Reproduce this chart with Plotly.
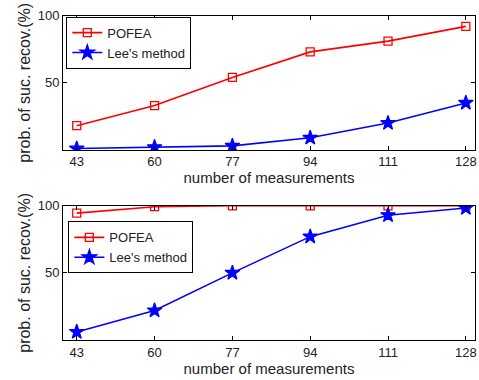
import plotly.graph_objects as go

measurements = [43, 60, 77, 94, 111, 128]
pofea_top = [18, 33, 54, 73, 81, 92]
lee_top = [1, 2, 3, 9, 20, 35]
pofea_bottom = [94.5, 99.3, 100, 100, 100, 100]
lee_bottom = [6, 22, 50, 77, 93, 98.3]
x_ticks = [43, 60, 77, 94, 111, 128]
y_ticks = [50, 100]

FONT = "Liberation Sans, Arial, sans-serif"
fig = go.Figure()

def add(x, y, name, color, symbol, msize, xa, ya, legend, show):
    fig.add_trace(go.Scatter(
        x=x, y=y, name=name, mode="lines+markers",
        line=dict(color=color, width=1.6),
        marker=dict(symbol=symbol, size=msize, color=color,
                    line=dict(color=color, width=1.3)),
        xaxis=xa, yaxis=ya, legend=legend, showlegend=show))

add(measurements, pofea_top, "POFEA", "#ff0000", "square-open", 8, "x", "y", "legend", True)
add(measurements, lee_top, "Lee's method", "#0000ff", "star", 11, "x", "y", "legend", True)
add(measurements, pofea_bottom, "POFEA", "#ff0000", "square-open", 8, "x2", "y2", "legend2", True)
add(measurements, lee_bottom, "Lee's method", "#0000ff", "star", 11, "x2", "y2", "legend2", True)

axis_common = dict(showline=True, linecolor="black", linewidth=1, mirror="ticks",
                   ticks="inside", ticklen=4, tickcolor="black", showgrid=False,
                   zeroline=False, tickfont=dict(size=13, color="#222"))

xcommon = dict(axis_common, range=[40, 130], tickvals=x_ticks)
ycommon = dict(axis_common, range=[0, 100], tickvals=y_ticks)

fig.update_layout(
    width=479, height=380,
    margin=dict(l=63, r=2, t=15, b=40),
    paper_bgcolor="white", plot_bgcolor="white",
    font=dict(family=FONT, size=13, color="#222"),
    xaxis=dict(xcommon, domain=[0, 1], anchor="y",
               title=dict(text="number of measurements", font=dict(size=15), standoff=2)),
    yaxis=dict(ycommon, domain=[0.585, 0.998], anchor="x",
               title=dict(text="prob. of suc. recov.(%)", font=dict(size=16), standoff=3)),
    xaxis2=dict(xcommon, domain=[0, 1], anchor="y2",
                title=dict(text="number of measurements", font=dict(size=15), standoff=2)),
    yaxis2=dict(ycommon, domain=[0, 0.413], anchor="x2",
                title=dict(text="prob. of suc. recov.(%)", font=dict(size=16), standoff=3)),
    legend=dict(x=0.008, y=0.995, xref="paper", yref="paper", xanchor="left", yanchor="top",
                bgcolor="white", bordercolor="black", borderwidth=1,
                font=dict(size=13), tracegroupgap=0, itemwidth=30),
    legend2=dict(x=0.013, y=0.365, xref="paper", yref="paper", xanchor="left", yanchor="top",
                 bgcolor="white", bordercolor="black", borderwidth=1,
                 font=dict(size=13), tracegroupgap=0, itemwidth=30),
)

fig.write_html("out.html", config={"displayModeBar": False},
               post_script="document.body.style.margin='0px';")
